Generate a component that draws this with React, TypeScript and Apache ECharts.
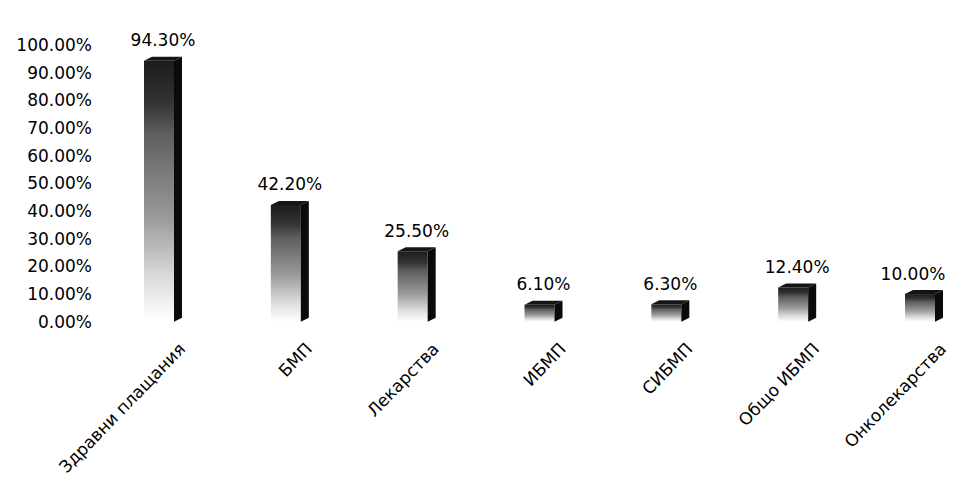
import React, { useEffect, useRef } from "react";
import * as echarts from "echarts";

// Share of respondents per category (fractions of 1)
const categories: string[] = [
  "Здравни плащания",
  "БМП",
  "Лекарства",
  "ИБМП",
  "СИБМП",
  "Общо ИБМП",
  "Онколекарства",
];
const shares: number[] = [0.943, 0.422, 0.255, 0.061, 0.063, 0.124, 0.1];

// Value axis: 0% .. 100% in steps of 10%
const axisMin = 0;
const axisMax = 1;
const axisStep = 0.1;

const FONT = "DejaVu Sans, sans-serif";
const pct = (v: number) => (v * 100).toFixed(2) + "%";

export default function App() {
  const ref = useRef<HTMLDivElement>(null);

  useEffect(() => {
    if (!ref.current) return;
    const chart = echarts.init(ref.current, null, { renderer: "svg" });

    const frontFill = new echarts.graphic.LinearGradient(0, 0, 0, 1, [
      { offset: 0, color: "#1c1c1c" },
      { offset: 0.16, color: "#333333" },
      { offset: 0.28, color: "#5e5e5e" },
      { offset: 0.6, color: "#9a9a9a" },
      { offset: 0.85, color: "#e0e0e0" },
      { offset: 1, color: "#ffffff" },
    ]);

    chart.setOption({
      animation: false,
      backgroundColor: "#ffffff",
      grid: { left: 174, right: 10, top: 37, bottom: 155 },
      xAxis: {
        type: "category",
        data: categories,
        boundaryGap: false,
        axisLine: { show: false },
        axisTick: { show: false },
        axisLabel: {
          rotate: 46,
          margin: 24,
          interval: 0,
          color: "#000",
          fontFamily: FONT,
          fontSize: 17,
        },
      },
      yAxis: {
        type: "value",
        min: axisMin,
        max: axisMax,
        interval: axisStep,
        axisLine: { show: false },
        axisTick: { show: false },
        splitLine: { show: false },
        axisLabel: {
          margin: 90,
          color: "#000",
          fontFamily: FONT,
          fontSize: 17,
          formatter: (v: number) => pct(v),
        },
      },
      series: [
        {
          type: "custom",
          encode: { x: 0, y: 1 },
          data: shares.map((v, i) => [i, v]),
          renderItem: (_params: any, api: any) => {
            const i = api.value(0);
            const v = api.value(1);
            const top = api.coord([i, v]);
            const base = api.coord([i, 0]);
            const w = 30;
            const d = 8;
            const dy = 4;
            const x0 = top[0] - 38;
            const x1 = x0 + w;
            // keep the value label inside the canvas
            const labelX = Math.min(x0 + (w + d) / 2, api.getWidth() - 40);
            return {
              type: "group",
              children: [
                {
                  type: "rect",
                  shape: { x: x0, y: top[1], width: w, height: base[1] - top[1] },
                  style: { fill: frontFill },
                },
                {
                  type: "polygon",
                  shape: {
                    points: [
                      [x1, top[1]],
                      [x1 + d, top[1] - dy],
                      [x1 + d, base[1] - dy],
                      [x1, base[1]],
                    ],
                  },
                  style: { fill: "#0a0a0a" },
                },
                {
                  type: "polygon",
                  shape: {
                    points: [
                      [x0, top[1]],
                      [x0 + d, top[1] - dy],
                      [x1 + d, top[1] - dy],
                      [x1, top[1]],
                    ],
                  },
                  style: { fill: "#141414" },
                },
                {
                  type: "text",
                  style: {
                    text: pct(v),
                    x: labelX,
                    y: top[1] - dy - 8,
                    align: "center",
                    verticalAlign: "bottom",
                    fill: "#000",
                    font: `17px ${FONT}`,
                  },
                },
              ],
            };
          },
        },
      ],
    });

    return () => chart.dispose();
  }, []);

  return <div ref={ref} style={{ width: 945, height: 470 }} />;
}
